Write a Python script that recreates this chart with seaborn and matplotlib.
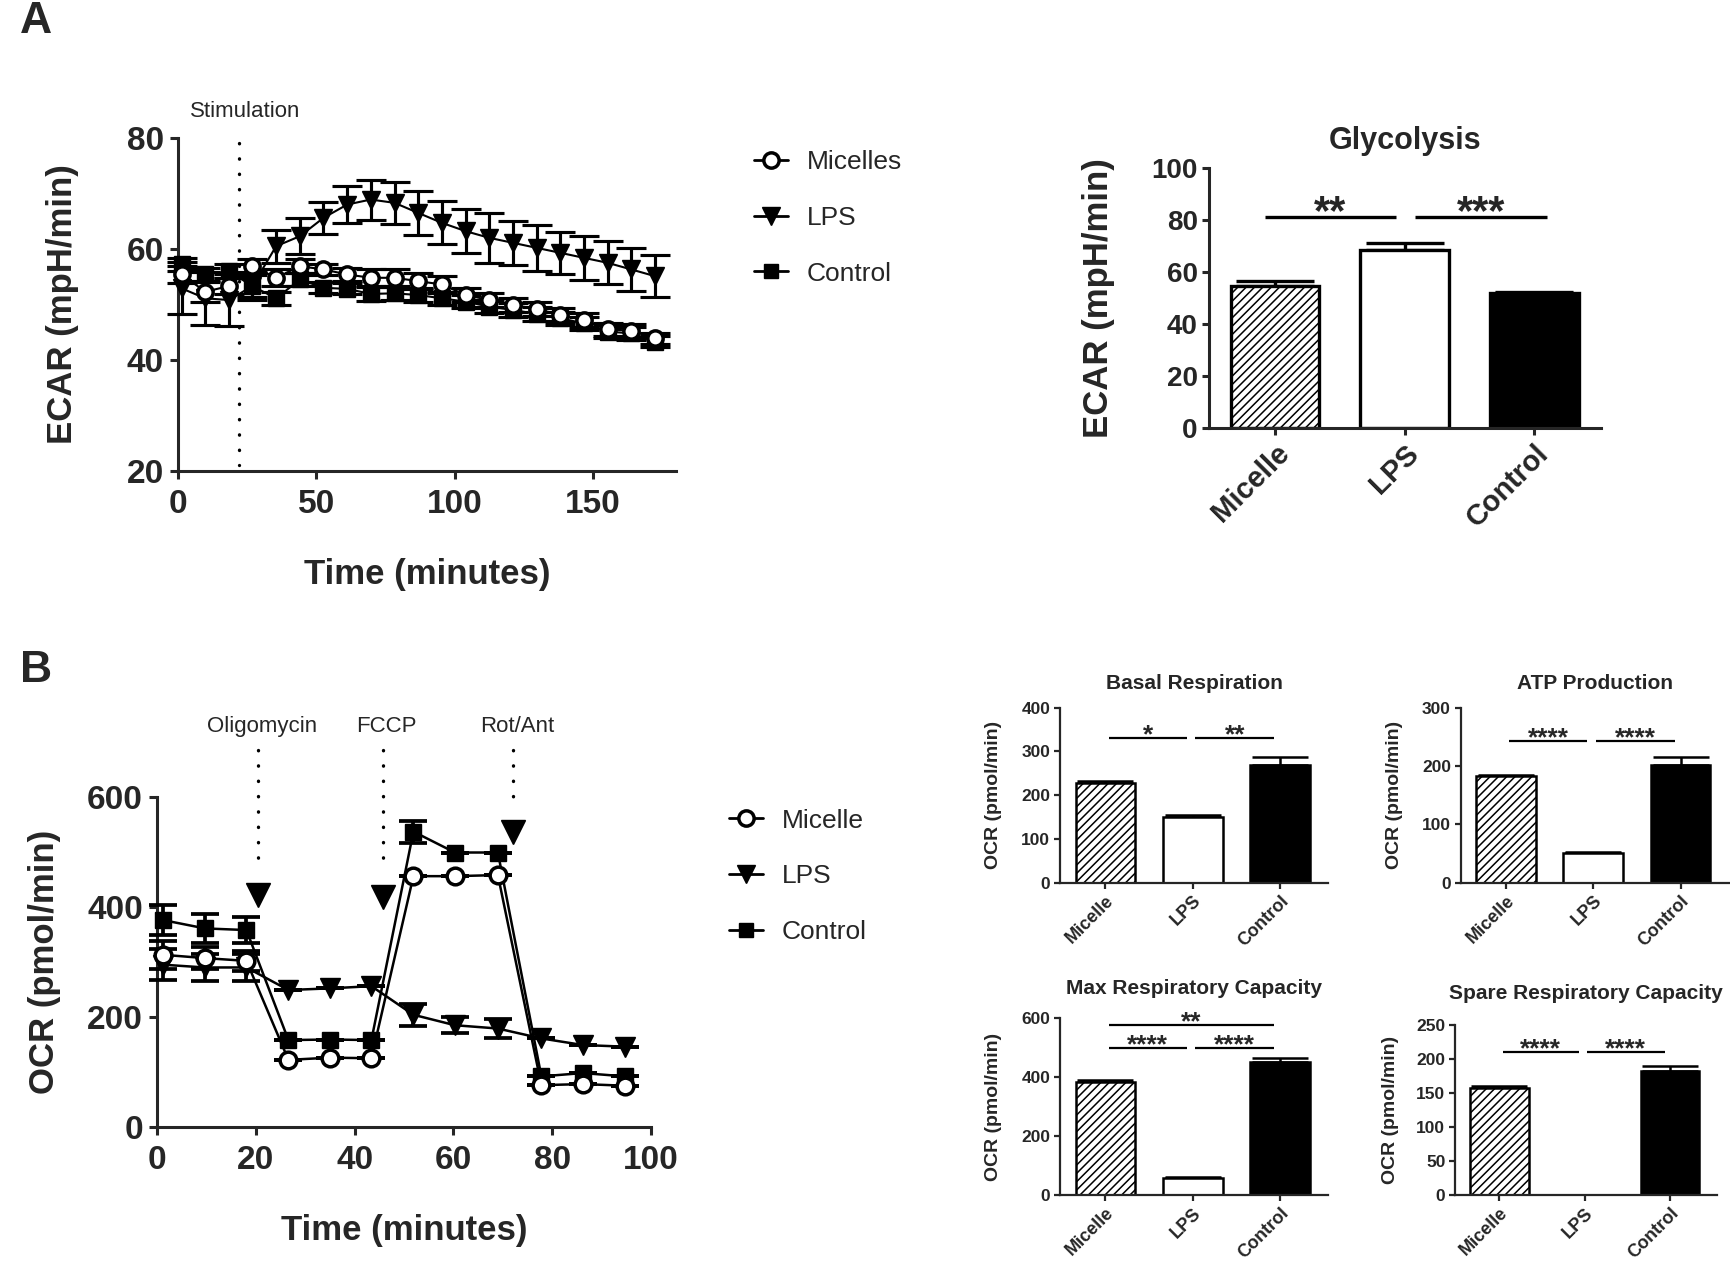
import numpy as np
import pandas as pd
import seaborn as sns
import matplotlib.pyplot as plt
from matplotlib.lines import Line2D

# ---- data ----
cats = ["Micelle", "LPS", "Control"]

ecar_time = [1.3, 9.9, 18.4, 26.9, 35.5, 44.1, 52.6, 61.2, 69.7, 78.3, 86.8,
             95.4, 104.0, 112.5, 121.1, 129.6, 138.2, 146.7, 155.3, 163.9, 172.4]
ecar_micelles = [55.4, 52.3, 53.3, 56.9, 54.8, 56.9, 56.3, 55.4, 54.8, 54.8, 54.2,
                 53.6, 51.7, 50.8, 49.9, 49.2, 48.1, 47.2, 45.5, 45.3, 43.9]
ecar_micelles_err = [1.5, 1.8, 1.5, 1.2, 1.5, 1.2, 1.0, 1.2, 1.5, 1.5, 1.5,
                     1.5, 1.2, 1.2, 1.2, 1.2, 1.2, 1.2, 1.2, 1.2, 1.0]
ecar_lps = [52.9, 51.1, 50.8, 53.3, 60.5, 62.3, 65.6, 68.0, 68.9, 68.3, 66.5,
            64.7, 63.2, 62.0, 61.1, 60.2, 59.3, 58.4, 57.5, 56.3, 55.1]
ecar_lps_err = [4.7, 4.8, 4.7, 2.5, 3.0, 3.2, 2.9, 3.3, 3.6, 3.8, 4.0,
                3.9, 4.0, 4.5, 4.0, 4.2, 3.8, 4.0, 3.9, 3.8, 3.8]
ecar_control = [57.2, 55.4, 56.0, 53.3, 51.1, 54.5, 53.0, 52.8, 51.9, 52.0, 51.7,
                51.1, 50.5, 49.6, 49.0, 48.3, 47.5, 46.6, 45.1, 44.8, 43.3]
ecar_control_err = [1.2, 1.2, 1.2, 2.0, 1.2, 1.2, 1.0, 1.0, 1.2, 1.2, 1.2,
                    1.2, 1.2, 1.2, 1.2, 1.2, 1.2, 1.2, 1.2, 1.2, 1.0]
stim_time = 22

ocr_time = [1.3, 9.7, 18.1, 26.6, 35.0, 43.4, 51.9, 60.3, 69.0, 77.8, 86.2, 94.7]
ocr_micelle = [313, 307, 302, 122, 126, 125, 456, 456, 458, 76, 78, 75]
ocr_micelle_err = [25, 20, 18, 0, 0, 0, 0, 0, 0, 0, 0, 0]
ocr_lps = [295, 290, 290, 249, 252, 256, 204, 185, 179, 161, 149, 146]
ocr_lps_err = [28, 25, 25, 0, 0, 0, 20, 15, 18, 0, 0, 0]
ocr_control = [376, 361, 358, 158, 159, 158, 537, 499, 499, 92, 98, 92]
ocr_control_err = [27, 27, 24, 0, 0, 0, 20, 0, 0, 0, 0, 0]
inj_labels = ["Oligomycin", "FCCP", "Rot/Ant"]
inj_time = [20.4, 45.7, 72.1]
inj_head = [422, 419, 537]

glyco_mean = [54.5, 68.5, 52.0]
glyco_err = [1.9, 2.5, 0.5]
basal_mean = [227, 150, 268]
basal_err = [5, 5, 20]
atp_mean = [182, 50, 202]
atp_err = [2, 3, 13]
maxresp_mean = [383, 57, 450]
maxresp_err = [6, 5, 13]
spare_mean = [157, 0, 182]
spare_err = [3, 0, 8]

# ---- style ----
sns.set_style("ticks")
plt.rcParams['font.family'] = ['Liberation Sans', 'DejaVu Sans']
plt.rcParams['font.weight'] = 'bold'
plt.rcParams['axes.labelweight'] = 'bold'
plt.rcParams['axes.titleweight'] = 'bold'
plt.rcParams['hatch.linewidth'] = 1.1

fig = plt.figure(figsize=(17.31, 12.63), dpi=100)


def frame(ax, lw, tick_fs, tick_len=6, pad=3):
    sns.despine(ax=ax)
    for s in ['left', 'bottom']:
        ax.spines[s].set_linewidth(lw)
    ax.tick_params(direction='out', width=lw, length=tick_len, labelsize=tick_fs, pad=pad)


def time_course(ax, t, series, lw, ms, cap):
    for y, err, mk in series:
        ax.errorbar(t, y, yerr=err, fmt='none', ecolor='black', elinewidth=lw * 1.5,
                    capsize=cap, capthick=lw * 1.5, clip_on=False, zorder=3)
        face = 'white' if mk == 'o' else 'black'
        sns.lineplot(x=t, y=y, ax=ax, color='black', linewidth=lw, marker=mk,
                     markersize=ms * (1.15 if mk == 'v' else 1), markerfacecolor=face,
                     markeredgecolor='black', markeredgewidth=2.5 if mk == 'o' else 1,
                     clip_on=False, zorder=4)


def legend_at(x, y, labels, fs, spacing):
    handles = [
        Line2D([], [], color='black', lw=2, marker='o', ms=11, mfc='white', mec='black', mew=2.5),
        Line2D([], [], color='black', lw=2, marker='v', ms=13, mfc='black', mec='black'),
        Line2D([], [], color='black', lw=2, marker='s', ms=10, mfc='black', mec='black'),
    ]
    fig.legend(handles, labels, loc='upper left', bbox_to_anchor=(x, y), frameon=False,
               prop={'size': fs, 'weight': 'normal'}, handlelength=1.3, handletextpad=0.7,
               labelspacing=spacing, borderpad=0, borderaxespad=0)


def bar_panel(ax, means, errs, lw, cap, hatch, xlim):
    sns.barplot(x=cats, y=means, hue=cats, palette=['white', 'white', 'black'],
                edgecolor='black', linewidth=lw, width=0.685, legend=False,
                errorbar=None, ax=ax, zorder=2)
    ax.patches[0].set_hatch(hatch)
    ax.errorbar(np.arange(len(cats)), means, yerr=[[0] * len(cats), errs], fmt='none',
                ecolor='black', elinewidth=lw, capsize=cap, capthick=lw, zorder=1)
    ax.set_xlim(*xlim)


def sig(ax, x0, x1, y, label, fs, lw, off):
    ax.plot([x0, x1], [y, y], color='black', lw=lw, solid_capstyle='butt')
    ax.annotate(label, ((x0 + x1) / 2, y), xytext=(0, off), textcoords='offset points',
                ha='center', va='baseline', fontsize=fs, fontweight='bold')


# ---- Panel A: ECAR time course ----
axA = fig.add_axes([0.1028, 0.6271, 0.2877, 0.2637])
time_course(axA, ecar_time, [(ecar_control, ecar_control_err, 's'),
                             (ecar_lps, ecar_lps_err, 'v'),
                             (ecar_micelles, ecar_micelles_err, 'o')], 1.5, 11, 11)
axA.set_xlim(0, 180)
axA.set_ylim(20, 80)
axA.set_xticks([0, 50, 100, 150])
axA.set_yticks([20, 40, 60, 80])
frame(axA, 2.2, 24, pad=7)
axA.tick_params(axis='y', pad=4)
axA.plot([stim_time, stim_time], [79, 21], color='black', lw=2.4,
         linestyle=(0, (0.1, 4.5)), dash_capstyle='round', zorder=5)
axA.text(24.2, 84.8, "Stimulation", ha='center', va='center', fontsize=16,
         fontweight='normal', clip_on=False)
axA.set_xlabel("Time (minutes)", fontsize=25)
axA.set_ylabel("ECAR (mpH/min)", fontsize=25)
axA.xaxis.set_label_coords(0.5, -0.26)
axA.yaxis.set_label_coords(-0.198, 0.5)
legend_at(0.4356, 0.881, ["Micelles", "LPS", "Control"], 19, 1.2)

# ---- Panel A: Glycolysis bars ----
axG = fig.add_axes([0.6984, 0.6611, 0.2265, 0.2059])
bar_panel(axG, glyco_mean, glyco_err, 2.4, 28, '////', (-0.51, 2.515))
axG.set_ylim(0, 100)
axG.set_yticks([0, 20, 40, 60, 80, 100])
frame(axG, 2.2, 20, tick_len=5)
axG.set_xticks(range(3))
axG.set_xticklabels(cats, rotation=45, ha='right', rotation_mode='anchor', fontsize=21)
axG.set_ylabel("ECAR (mpH/min)", fontsize=25)
axG.yaxis.set_label_coords(-0.24, 0.5)
axG.set_title("Glycolysis", fontsize=22, pad=14)
sig(axG, -0.08, 0.935, 81.2, "**", 30, 2.4, -5.5)
sig(axG, 1.077, 2.097, 81.2, "***", 30, 2.4, -5.5)

# ---- Panel B: OCR time course ----
axB = fig.add_axes([0.0907, 0.1077, 0.2854, 0.2613])
time_course(axB, ocr_time, [(ocr_lps, ocr_lps_err, 'v'),
                            (ocr_control, ocr_control_err, 's'),
                            (ocr_micelle, ocr_micelle_err, 'o')], 1.8, 12, 10)
axB.set_xlim(0, 100)
axB.set_ylim(0, 600)
axB.set_xticks([0, 20, 40, 60, 80, 100])
axB.set_yticks([0, 200, 400, 600])
frame(axB, 2.2, 24, pad=7)
axB.tick_params(axis='y', pad=4)
for x, yh, lab in zip(inj_time, inj_head, inj_labels):
    axB.plot([x, x], [685, yh + 45], color='black', lw=2.4, linestyle=(0, (0.1, 4.5)),
             dash_capstyle='round', clip_on=False)
    axB.plot([x], [yh], marker='v', ms=17, color='black', clip_on=False)
    axB.text(x + 0.8, 728, lab, ha='center', va='center', fontsize=16,
             fontweight='normal', clip_on=False)
axB.set_xlabel("Time (minutes)", fontsize=25)
axB.set_ylabel("OCR (pmol/min)", fontsize=25)
axB.xaxis.set_label_coords(0.5, -0.265)
axB.yaxis.set_label_coords(-0.194, 0.5)
legend_at(0.421, 0.3598, ["Micelle", "LPS", "Control"], 19, 1.2)

# ---- Panel B: small bar charts ----
small = [
    ([0.6124, 0.3012, 0.1548, 0.1386], "Basal Respiration", basal_mean, basal_err, 400, 100, 13,
     [(0.04, 0.93, 331, "*"), (1.03, 1.935, 331, "**")]),
    ([0.8438, 0.3012, 0.1548, 0.1386], "ATP Production", atp_mean, atp_err, 300, 100, 13,
     [(0.04, 0.93, 243, "****"), (1.03, 1.935, 243, "****")]),
    ([0.6124, 0.0538, 0.1548, 0.1402], "Max Respiratory Capacity", maxresp_mean, maxresp_err, 600, 200, 17,
     [(0.04, 1.935, 575, "**"), (0.04, 0.93, 498, "****"), (1.03, 1.935, 498, "****")]),
    ([0.8406, 0.0538, 0.1513, 0.1346], "Spare Respiratory Capacity", spare_mean, spare_err, 250, 50, 19,
     [(0.04, 0.93, 211, "****"), (1.03, 1.935, 211, "****")]),
]
for rect, title, means, errs, ymax, step, tpad, sigs in small:
    ax = fig.add_axes(rect)
    bar_panel(ax, means, errs, 1.8, 20, '////', (-0.52, 2.55))
    ax.set_ylim(0, ymax)
    ax.set_yticks(np.arange(0, ymax + 1, step))
    frame(ax, 1.6, 12.5, 4)
    ax.set_xticks(range(3))
    ax.set_xticklabels(cats, rotation=45, ha='right', rotation_mode='anchor', fontsize=13)
    ax.set_ylabel("OCR (pmol/min)", fontsize=14)
    ax.yaxis.set_label_coords(-0.215, 0.5)
    ax.set_title(title, fontsize=15, pad=tpad)
    for x0, x1, y, lab in sigs:
        sig(ax, x0, x1, y, lab, 19, 1.6, -3.2)

fig.text(0.0116, 0.9826, "A", fontsize=32, fontweight='bold', va='center', ha='left')
fig.text(0.0116, 0.4695, "B", fontsize=32, fontweight='bold', va='center', ha='left')

fig.savefig("out.png", dpi=100)
